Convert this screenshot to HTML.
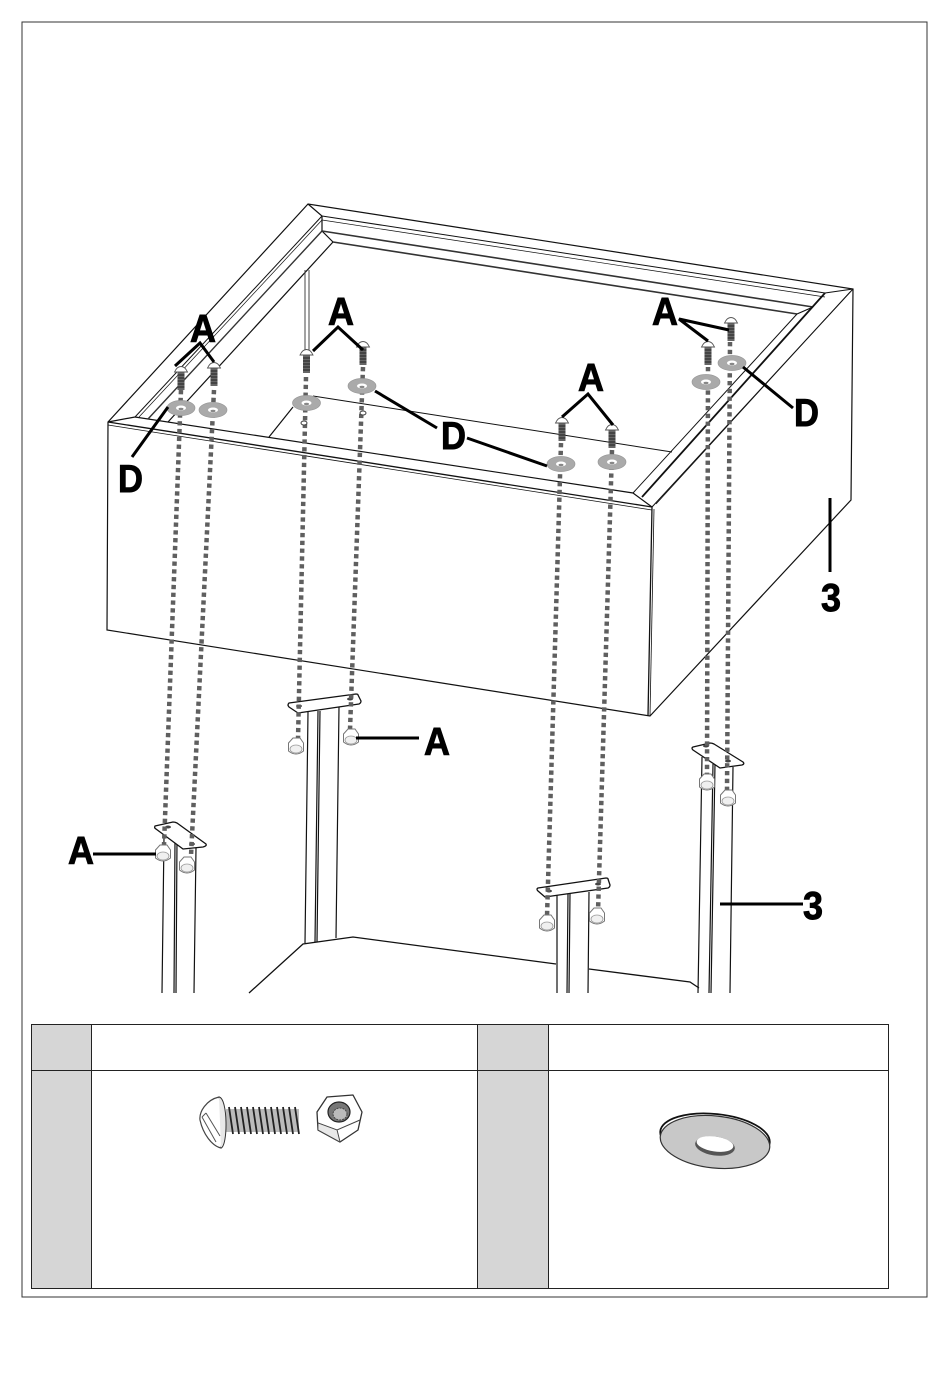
<!DOCTYPE html>
<html><head><meta charset="utf-8"><style>
html,body{margin:0;padding:0;background:#fff}
svg{display:block}
text{font-family:"Liberation Sans",sans-serif;font-weight:700;font-size:39px;fill:#000;stroke:#000;stroke-width:.9px}
</style></head><body>
<svg width="950" height="1378" viewBox="0 0 950 1378" xmlns="http://www.w3.org/2000/svg">
<defs>
<g id="bolt"><rect x="-3.500" y="3" width="7" height="18" fill="#666"/><path d="M-3.500 6H3.500M-3.500 9H3.500M-3.500 12H3.500M-3.500 15H3.500M-3.500 18H3.500" stroke="#222" stroke-width="1"/><path d="M-6.500 3Q-4 -2.500 0 -2.500Q4 -2.500 6.500 3Z" fill="#fff" stroke="#555" stroke-width=".9"/></g>
<g id="washer"><ellipse rx="14" ry="7.500" fill="#aaa" stroke="#999" stroke-width=".7"/><ellipse rx="5" ry="2.500" fill="#fff"/><ellipse cy="1" rx="2.500" ry="1.200" fill="#888"/></g>
<g id="nut"><path d="M-7.500 -4L-3 -9L4 -9L7.500 -4L7.500 4Q0 10 -7.500 4Z" fill="#fff" stroke="#777" stroke-width="1"/><ellipse cy="2" rx="6" ry="4" fill="#f0f0f0" stroke="#999" stroke-width=".8"/></g>
</defs>
<rect width="950" height="1378" fill="#fff"/>
<rect x="22" y="22" width="905" height="1275" fill="none" stroke="#333" stroke-width="1"/>

<!-- box outline -->
<g fill="none" stroke="#111" stroke-width="1.2">
<path d="M108 422L308 204L853 289L851 500L650 716L107 630Z"/>
<path d="M108 422L652 507L648 716" stroke-width="1.300"/>
<path d="M654 509L650 716" stroke-width=".8"/>
<path d="M108 425L652 510" stroke-width=".8"/>
<path d="M135 417L633 493L652 507"/>
<!-- left trim -->
<path d="M135 417L322 216" stroke-width="1"/>
<path d="M139 417L322 220" stroke-width=".7"/>
<path d="M148 419L322 231" stroke-width="1.400" stroke="#333"/>
<path d="M168 422L333 242" stroke-width="1.200"/>
<path d="M108 422L135 417M308 204L322 216L322 231L333 242"/>
<!-- back trim -->
<path d="M322 216L825 293" stroke-width="1"/>
<path d="M322 220L825 297" stroke-width=".7"/>
<path d="M322 231L813 307" stroke-width="1.600" stroke="#333"/>
<path d="M333 242L797 314" stroke-width="1.600" stroke="#333"/>
<path d="M797 314L813 307"/>
<!-- right trim -->
<path d="M853 289L825 293" stroke-width="1"/>
<path d="M853 289L652 507" stroke-width="1"/>
<path d="M850 292L656 504" stroke-width=".8"/>
<path d="M825 293L642 497" stroke-width="1.800"/>
<path d="M797 314L633 493" stroke-width="1"/>
<!-- interior -->
<path d="M313 396L672 452" stroke-width="1"/>
<path d="M293 407L269 437" stroke-width="1.200"/>
<path d="M305 270L305 350M309 270L309 350" stroke-width="1" stroke="#444"/>
<!-- legs -->
<path d="M164 837L162 993M175 840L174 993M177 840L176 993M196 848L194 993"/>
<path d="M308 712L305 943M318 711L315 942M320 711L317 942M339 707L336 938"/>
<path d="M557 895L557 993M568 894L567 993M570 894L569 993M589 892L588 993"/>
<path d="M702 757L698 993M713 764L709 993M715 764L711 993M733 767L730 993"/>
<!-- floor -->
<path d="M249 993L303 944L353 937L556 964M589 969L690 982L699 988" stroke-width="1.300"/>
</g>
<!-- plates -->
<g fill="#fff" stroke="#111" stroke-width="1.300" stroke-linejoin="round">
<path d="M155 826Q154 828 156 829L183 849L203 847Q207 846 206 844L177 823Q175 822 173 822Z"/>
<path d="M289 703Q287 705 289 707L298 713L359 704Q361 703 361 701L358 695Q358 694 356 694Z"/>
<path d="M538 888Q536 889 538 891L545 897L608 888Q610 887 610 885L608 879Q608 878 606 878Z"/>
<path d="M693 747Q691 748 693 750L720 768L742 765Q745 764 743 762L714 744Q712 743 710 743Z"/>
</g>
<g fill="#444">
<ellipse cx="168" cy="827" rx="3" ry="1.500"/><ellipse cx="192" cy="844" rx="3" ry="1.500"/>
<ellipse cx="299" cy="706" rx="3" ry="1.500"/><ellipse cx="350" cy="699" rx="3" ry="1.500"/>
<ellipse cx="549" cy="891" rx="3" ry="1.500"/><ellipse cx="598" cy="884" rx="3" ry="1.500"/>
<ellipse cx="706" cy="746" rx="3" ry="1.500"/><ellipse cx="728" cy="761" rx="3" ry="1.500"/>
</g>
<!-- dotted lines -->
<g fill="none" stroke="#5f5f5f" stroke-width="4.500" stroke-dasharray="4.300 3.500">
<path d="M181 390L164 845"/>
<path d="M214 390L191 856"/>
<path d="M306 377L298 740"/>
<path d="M363 367L350 730"/>
<path d="M561 443L547 917"/>
<path d="M612 450L598 912"/>
<path d="M708 367L707 779"/>
<path d="M730 342L727 792"/>
</g>
<!-- bolts -->
<use href="#bolt" x="181" y="369"/><use href="#bolt" x="214" y="365"/>
<use href="#bolt" x="306.500" y="352"/><use href="#bolt" x="363" y="344"/>
<use href="#bolt" x="562" y="420"/><use href="#bolt" x="612" y="427"/>
<use href="#bolt" x="708" y="344"/><use href="#bolt" x="731" y="320"/>
<!-- washers -->
<use href="#washer" x="181" y="408"/><use href="#washer" x="213" y="410"/>
<use href="#washer" x="306.500" y="403"/><use href="#washer" x="362" y="386"/>
<use href="#washer" x="561" y="464"/><use href="#washer" x="612" y="462"/>
<use href="#washer" x="706" y="382"/><use href="#washer" x="732" y="363"/>
<!-- small holes -->
<ellipse cx="304" cy="423" rx="3" ry="2" fill="#fff" stroke="#444"/>
<ellipse cx="363" cy="413" rx="3" ry="2" fill="#fff" stroke="#444"/>
<!-- nuts -->
<use href="#nut" x="296" y="747"/><use href="#nut" x="351" y="738"/>
<use href="#nut" x="163" y="854"/><use href="#nut" x="187" y="866"/>
<use href="#nut" x="547" y="924"/><use href="#nut" x="597" y="917"/>
<use href="#nut" x="707" y="783"/><use href="#nut" x="728" y="799"/>
<!-- leaders -->
<g fill="none" stroke="#000" stroke-width="3">
<path d="M175 366L200 343L214 362"/>
<path d="M313 351L338 327L363 350"/>
<path d="M562 417L588 394L613 425"/>
<path d="M708 341L679 319L729 330"/>
<path d="M356 738H419"/>
<path d="M93 854H156"/>
<path d="M168 407L132 457"/>
<path d="M375 391L437 428"/>
<path d="M467 438L547 466"/>
<path d="M743 367L793 408"/>
<path d="M830 498V572"/>
<path d="M720 904H803"/>
</g>
<!-- labels -->
<text x="190" y="342" textLength="26" lengthAdjust="spacingAndGlyphs">A</text>
<text x="328" y="325" textLength="26" lengthAdjust="spacingAndGlyphs">A</text>
<text x="578" y="391" textLength="26" lengthAdjust="spacingAndGlyphs">A</text>
<text x="652" y="325" textLength="26" lengthAdjust="spacingAndGlyphs">A</text>
<text x="424" y="755" textLength="26" lengthAdjust="spacingAndGlyphs">A</text>
<text x="68" y="864" textLength="26" lengthAdjust="spacingAndGlyphs">A</text>
<text x="118" y="492" textLength="25" lengthAdjust="spacingAndGlyphs">D</text>
<text x="441" y="449" textLength="25" lengthAdjust="spacingAndGlyphs">D</text>
<text x="794" y="426" textLength="25" lengthAdjust="spacingAndGlyphs">D</text>
<text x="803" y="919" textLength="20" lengthAdjust="spacingAndGlyphs">3</text>
<text x="821" y="611" textLength="20" lengthAdjust="spacingAndGlyphs">3</text>

<!-- white mask under diagram -->
<rect x="23" y="994" width="903" height="30" fill="#fff"/>
<!-- table -->
<rect x="32" y="1025" width="59" height="263" fill="#d6d6d6"/>
<rect x="478" y="1025" width="70" height="263" fill="#d6d6d6"/>
<g fill="none" stroke="#222" stroke-width="1">
<rect x="31.500" y="1024.500" width="857" height="264"/>
<path d="M31.500 1070.500H888.500M91.500 1024.500V1288.500M477.500 1024.500V1288.500M548.500 1024.500V1288.500"/>
</g>
<!-- bolt illustration -->
<rect x="226" y="1109" width="73" height="23" fill="#bbb"/>
<g stroke="#222" stroke-width="1.800" fill="none">
<path d="M229 1107L233 1134M235 1107L239 1134M241 1107L245 1134M247 1107L251 1134M253 1107L257 1134M259 1107L263 1134M265 1107L269 1134M271 1107L275 1134M277 1107L281 1134M283 1107L287 1134M289 1107L293 1134M295 1107L299 1134"/>
</g>
<path d="M219 1097C206 1100 199 1112 200 1120C203 1134 212 1146 221 1148C225 1131 225 1112 219 1097Z" fill="#fff" stroke="#444" stroke-width="1.200"/>
<path d="M219 1097C228 1098 228 1146 221 1148" fill="#e8e8e8" stroke="#333"/>
<path d="M202 1117L216 1142M206 1113L220 1136M202 1117L206 1113" stroke="#555" fill="none"/>
<!-- nut illustration -->
<path d="M317 1112L327 1097L353 1095L362 1112L358 1130L340 1142L318 1130Z" fill="#fff" stroke="#333" stroke-width="1.300" stroke-linejoin="round"/>
<path d="M318 1123L337 1130L360 1120M337 1130L340 1142" fill="none" stroke="#444"/>
<path d="M318 1123L337 1130L340 1142L318 1130Z" fill="#e8e8e8" stroke="#444" stroke-width=".8"/>
<ellipse cx="339" cy="1112" rx="11" ry="10" fill="#777" stroke="#222" stroke-width="1.200"/>
<ellipse cx="340" cy="1114" rx="7" ry="6" fill="#bbb" stroke="#444" stroke-dasharray="2 1"/>
<!-- washer illustration -->
<ellipse cx="715" cy="1137" rx="55" ry="23" transform="rotate(6 715 1137)" fill="#fff" stroke="#111" stroke-width="1.800"/>
<ellipse cx="715" cy="1142" rx="55" ry="26" transform="rotate(6 715 1142)" fill="#c8c8c8" stroke="#333" stroke-width="1.200"/>
<ellipse cx="715" cy="1146" rx="20" ry="9.500" transform="rotate(8 715 1146)" fill="#555"/>
<ellipse cx="715" cy="1144" rx="18.500" ry="7.500" transform="rotate(8 715 1144)" fill="#fff"/>
</svg>
</body></html>
